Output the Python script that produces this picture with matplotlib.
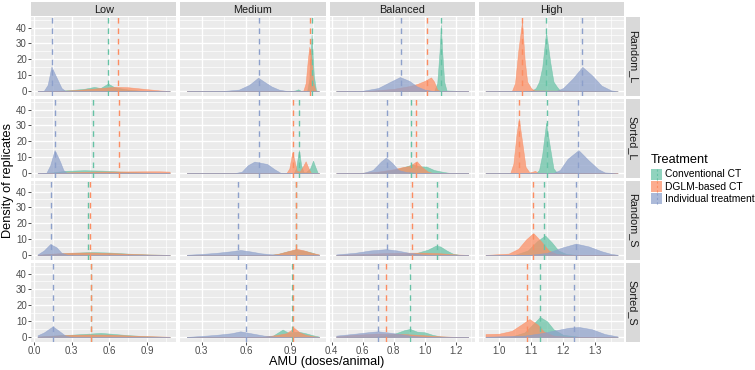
import matplotlib
matplotlib.use("Agg")
import matplotlib.pyplot as plt
from matplotlib.patches import Rectangle
from matplotlib.lines import Line2D
import numpy as np

plt.rcParams['font.family'] = ['Liberation Sans', 'DejaVu Sans']

# ---------------- data ----------------
levels = ["Low", "Medium", "Balanced", "High"]          # columns
scenarios = ["Random_L", "Sorted_L", "Random_S", "Sorted_S"]  # rows
treatments = ["Conventional CT", "DGLM-based CT", "Individual treatment"]
colors = ["#66C2A5", "#FC8D62", "#8DA0CB"]

# x data range per column (free x scales)
x_range = {"Low": (0.03, 1.08), "Medium": (0.20, 1.09),
           "Balanced": (0.43, 1.28), "High": (0.958, 1.37)}
x_ticks = {"Low": [0.0, 0.3, 0.6, 0.9], "Medium": [0.3, 0.6, 0.9],
           "Balanced": [0.4, 0.6, 0.8, 1.0, 1.2], "High": [1.0, 1.1, 1.2, 1.3]}
x_minor = {"Low": [0.15, 0.45, 0.75, 1.05], "Medium": [0.15, 0.45, 0.75, 1.05],
           "Balanced": [0.5, 0.7, 0.9, 1.1, 1.3], "High": [0.95, 1.05, 1.15, 1.25, 1.35]}
x_tick_labels = {"Low": ["0.0", "0.3", "0.6", "0.9"], "Medium": ["0.3", "0.6", "0.9"],
                 "Balanced": ["0.4", "0.6", "0.8", "1.0", "1.2"],
                 "High": ["1.0", "1.1", "1.2", "1.3"]}
y_ticks = [0, 10, 20, 30, 40]

# mean AMU (dashed lines): rows = scenarios, cols = levels
conv_mean = [[0.586, 1.041, 1.103, 1.147],
             [0.469, 0.955, 0.914, 1.150],
             [0.432, 0.935, 1.077, 1.140],
             [0.455, 0.905, 0.905, 1.128]]
dglm_mean = [[0.666, 1.030, 1.013, 1.072],
             [0.674, 0.916, 0.944, 1.063],
             [0.448, 0.932, 0.916, 1.107],
             [0.452, 0.915, 0.750, 1.088]]
indiv_mean = [[0.146, 0.683, 0.849, 1.259],
              [0.165, 0.683, 0.757, 1.246],
              [0.136, 0.542, 0.759, 1.239],
              [0.150, 0.600, 0.700, 1.234]]

# densities: (x list, density list)
conv_density = {
 ("Random_L", "Low"): ([0.03, 0.2, 0.3, 0.4, 0.48, 0.53, 0.59, 0.64, 0.75, 0.85, 1.08],
                       [0, 0.3, 0.8, 1.5, 2.7, 2.0, 4.8, 2.5, 1.0, 0.3, 0]),
 ("Random_L", "Medium"): ([0.2, 0.9, 0.93, 0.95, 0.97, 1.01, 1.025, 1.04, 1.055, 1.07, 1.09],
                          [0, 0, 0.5, 1.2, 0.2, 0, 8, 35.5, 10, 0.5, 0]),
 ("Random_L", "Balanced"): ([0.43, 1.06, 1.08, 1.095, 1.103, 1.112, 1.125, 1.14, 1.28],
                            [0, 0, 5, 25, 41.6, 25, 6, 0.5, 0]),
 ("Random_L", "High"): ([0.958, 1.1, 1.115, 1.125, 1.135, 1.147, 1.16, 1.17, 1.18, 1.19, 1.37],
                        [0, 0, 2, 6, 15, 37.4, 18, 6, 3, 0.5, 0]),
 ("Sorted_L", "Low"): ([0.03, 0.15, 0.25, 0.4, 0.55, 0.7, 0.85, 1.0, 1.08],
                       [0, 0.5, 1.5, 1.9, 1.6, 1.0, 0.5, 0.2, 0]),
 ("Sorted_L", "Medium"): ([0.2, 0.92, 0.935, 0.955, 0.97, 0.985, 1.0, 1.03, 1.05, 1.065, 1.08, 1.09],
                          [0, 0, 3, 14.5, 5, 0.8, 0.5, 3, 7.9, 4, 0.5, 0]),
 ("Sorted_L", "Balanced"): ([0.43, 0.7, 0.8, 0.87, 0.92, 0.97, 1.01, 1.06, 1.12, 1.16, 1.28],
                            [0, 0.5, 2, 4, 5.5, 4.3, 4.2, 2, 0.8, 0.2, 0]),
 ("Sorted_L", "High"): ([0.958, 1.115, 1.125, 1.135, 1.147, 1.16, 1.17, 1.18, 1.37],
                        [0, 0, 2, 12, 31.7, 15, 3, 0.5, 0]),
 ("Random_S", "Low"): ([0.03, 0.15, 0.3, 0.45, 0.6, 0.75, 0.9, 1.08],
                       [0.2, 0.8, 1.5, 2.0, 1.7, 1.0, 0.5, 0.2]),
 ("Random_S", "Medium"): ([0.2, 0.75, 0.82, 0.88, 0.93, 0.98, 1.03, 1.07, 1.09],
                          [0, 0, 1, 2.5, 3.5, 3, 2, 0.8, 0.3]),
 ("Random_S", "Balanced"): ([0.43, 0.85, 0.95, 1.02, 1.07, 1.1, 1.14, 1.18, 1.22, 1.28],
                            [0, 0.2, 1.5, 3.5, 6, 5.5, 3, 1, 0.3, 0]),
 ("Random_S", "High"): ([0.958, 1.05, 1.09, 1.12, 1.144, 1.165, 1.185, 1.21, 1.25, 1.37],
                        [0, 0.3, 3, 9, 12.4, 8, 3, 0.8, 0.1, 0]),
 ("Sorted_S", "Low"): ([0.03, 0.15, 0.3, 0.45, 0.53, 0.6, 0.75, 0.9, 1.08],
                       [0.3, 1.0, 1.6, 2.3, 2.7, 2.3, 1.3, 0.6, 0.2]),
 ("Sorted_S", "Medium"): ([0.2, 0.7, 0.78, 0.845, 0.88, 0.95, 1.0, 1.05, 1.09],
                          [0, 0, 1, 4.8, 3, 3.5, 2.5, 1.2, 0.4]),
 ("Sorted_S", "Balanced"): ([0.43, 0.7, 0.8, 0.87, 0.905, 0.95, 1.0, 1.05, 1.1, 1.2, 1.28],
                            [0, 0.5, 2, 4.5, 5.2, 3.5, 3.1, 1.5, 0.5, 0.1, 0]),
 ("Sorted_S", "High"): ([0.958, 1.04, 1.08, 1.11, 1.128, 1.15, 1.17, 1.2, 1.25, 1.37],
                        [0, 0.5, 3, 9, 12.7, 10, 5, 1.5, 0.3, 0]),
}
dglm_density = {
 ("Random_L", "Low"): ([0.03, 0.2, 0.35, 0.5, 0.65, 0.75, 0.9, 1.0, 1.08],
                       [0, 0.2, 0.8, 1.8, 2.8, 2.5, 1.3, 0.5, 0.1]),
 ("Random_L", "Medium"): ([0.2, 0.95, 0.985, 1.0, 1.015, 1.025, 1.04, 1.05, 1.065, 1.09],
                          [0, 0, 0.5, 5, 20, 28, 20, 6, 0.5, 0]),
 ("Random_L", "Balanced"): ([0.43, 0.65, 0.8, 0.9, 0.95, 1.0, 1.04, 1.06, 1.08, 1.1, 1.28],
                            [0, 0.3, 1.5, 3.2, 4.5, 6.5, 8.7, 6, 1, 0.1, 0]),
 ("Random_L", "High"): ([0.958, 1.04, 1.05, 1.06, 1.072, 1.08, 1.088, 1.1, 1.11, 1.37],
                        [0, 0, 5, 25, 44, 20, 6, 2, 0.5, 0]),
 ("Sorted_L", "Low"): ([0.03, 0.2, 0.35, 0.5, 0.7, 0.9, 1.0, 1.08],
                       [0, 0.3, 0.8, 1.0, 1.1, 1.2, 1.2, 1.0]),
 ("Sorted_L", "Medium"): ([0.2, 0.87, 0.89, 0.91, 0.925, 0.94, 0.96, 0.98, 1.0, 1.02, 1.035, 1.09],
                          [0, 0, 3, 13, 8, 1.5, 1, 4, 7.5, 3, 0.3, 0]),
 ("Sorted_L", "Balanced"): ([0.43, 0.6, 0.7, 0.8, 0.85, 0.9, 0.948, 0.98, 1.02, 1.05, 1.28],
                            [0, 0.3, 1, 2.5, 3.7, 4.5, 7.5, 4, 1, 0.2, 0]),
 ("Sorted_L", "High"): ([0.958, 1.035, 1.045, 1.055, 1.062, 1.072, 1.083, 1.095, 1.105, 1.113, 1.12, 1.37],
                        [0, 0, 6, 25, 34.2, 20, 4, 0.5, 1, 1.5, 0.3, 0]),
 ("Random_S", "Low"): ([0.03, 0.15, 0.3, 0.45, 0.6, 0.75, 0.9, 1.08],
                       [0.3, 1.0, 1.6, 1.7, 1.4, 0.9, 0.5, 0.2]),
 ("Random_S", "Medium"): ([0.2, 0.75, 0.82, 0.88, 0.94, 0.99, 1.04, 1.09],
                          [0, 0, 1, 2.5, 4, 3, 1.5, 0.5]),
 ("Random_S", "Balanced"): ([0.43, 0.6, 0.75, 0.9, 1.0, 1.1, 1.2, 1.28],
                            [0.2, 0.8, 1.3, 1.6, 1.6, 1.2, 0.5, 0.2]),
 ("Random_S", "High"): ([0.958, 1.03, 1.06, 1.085, 1.107, 1.13, 1.155, 1.18, 1.22, 1.37],
                        [0.2, 1, 4, 10, 13.9, 9, 3, 0.8, 0.2, 0]),
 ("Sorted_S", "Low"): ([0.03, 0.15, 0.3, 0.45, 0.6, 0.75, 0.9, 1.08],
                       [0.4, 1.0, 1.5, 1.7, 1.6, 1.1, 0.7, 0.3]),
 ("Sorted_S", "Medium"): ([0.2, 0.7, 0.8, 0.87, 0.923, 0.96, 1.0, 1.05, 1.09],
                          [0, 0.2, 1.3, 2.5, 5.8, 3, 1.5, 0.6, 0.2]),
 ("Sorted_S", "Balanced"): ([0.43, 0.55, 0.7, 0.8, 0.9, 1.0, 1.1, 1.2, 1.28],
                            [0.5, 1.5, 2.3, 2.2, 1.8, 1.2, 0.6, 0.2, 0.1]),
 ("Sorted_S", "High"): ([0.958, 1.0, 1.04, 1.07, 1.095, 1.12, 1.14, 1.17, 1.22, 1.37],
                        [2, 2.2, 4, 8, 11.4, 8, 3.5, 1, 0.2, 0]),
}
indiv_density = {
 ("Random_L", "Low"): ([0.03, 0.08, 0.11, 0.14, 0.16, 0.19, 0.22, 0.25, 0.3, 1.08],
                       [0, 0.3, 4, 15.5, 12, 7, 2, 0.2, 0, 0]),
 ("Random_L", "Medium"): ([0.2, 0.45, 0.55, 0.62, 0.68, 0.72, 0.77, 0.82, 0.87, 1.09],
                          [0, 0.2, 1, 4, 8.5, 6, 3, 1, 0.2, 0]),
 ("Random_L", "Balanced"): ([0.43, 0.6, 0.7, 0.78, 0.84, 0.9, 0.95, 1.0, 1.05, 1.28],
                            [0, 0.3, 2, 6, 8.9, 6.5, 3, 1, 0.2, 0]),
 ("Random_L", "High"): ([0.958, 1.18, 1.2, 1.23, 1.26, 1.29, 1.32, 1.35, 1.37],
                        [0, 0.3, 2, 8, 15.3, 10, 3.5, 0.5, 0]),
 ("Sorted_L", "Low"): ([0.03, 0.1, 0.13, 0.165, 0.19, 0.21, 0.235, 0.26, 0.3, 1.08],
                       [0, 0.3, 5, 14.5, 10.5, 7, 2, 0.2, 0, 0]),
 ("Sorted_L", "Medium"): ([0.2, 0.52, 0.57, 0.61, 0.655, 0.7, 0.74, 0.79, 0.83, 1.09],
                          [0, 0, 1, 5, 7.3, 6.5, 5.8, 2.5, 0.3, 0]),
 ("Sorted_L", "Balanced"): ([0.43, 0.6, 0.665, 0.72, 0.75, 0.79, 0.83, 0.88, 0.95, 1.28],
                            [0, 0.1, 2, 7.5, 9.8, 6.5, 2, 0.8, 0.2, 0]),
 ("Sorted_L", "High"): ([0.958, 1.17, 1.19, 1.214, 1.248, 1.28, 1.31, 1.33, 1.37],
                        [0, 0.2, 2, 9, 14.5, 8, 2.5, 0.5, 0]),
 ("Random_S", "Low"): ([0.03, 0.08, 0.13, 0.18, 0.22, 0.27, 0.3, 1.08],
                       [0.5, 3, 7, 5, 1.5, 0.2, 0, 0]),
 ("Random_S", "Medium"): ([0.2, 0.3, 0.4, 0.5, 0.56, 0.62, 0.7, 0.8, 0.9, 1.09],
                          [0.3, 0.8, 1.5, 2.5, 3.3, 2.5, 1.2, 0.3, 0, 0]),
 ("Random_S", "Balanced"): ([0.43, 0.55, 0.65, 0.75, 0.82, 0.9, 0.98, 1.05, 1.28],
                            [0.5, 1.5, 3, 3.8, 3, 1.5, 0.5, 0.1, 0]),
 ("Random_S", "High"): ([0.958, 1.1, 1.15, 1.2, 1.24, 1.28, 1.32, 1.35, 1.37],
                        [0, 0.3, 1.5, 5, 7.3, 5.5, 2.5, 0.8, 0.3]),
 ("Sorted_S", "Low"): ([0.03, 0.08, 0.15, 0.2, 0.25, 0.3, 0.35, 1.08],
                       [1.2, 3, 6.8, 4, 1, 0.1, 0, 0]),
 ("Sorted_S", "Medium"): ([0.2, 0.3, 0.4, 0.5, 0.56, 0.63, 0.72, 0.8, 0.88, 1.09],
                          [0.2, 0.8, 1.5, 2.5, 3.7, 2.5, 1, 0.3, 0, 0]),
 ("Sorted_S", "Balanced"): ([0.43, 0.55, 0.65, 0.7, 0.78, 0.85, 0.92, 1.0, 1.1, 1.28],
                            [1, 2.2, 3.3, 3.7, 2.8, 1.8, 0.8, 0.2, 0, 0]),
 ("Sorted_S", "High"): ([0.958, 1.08, 1.13, 1.18, 1.22, 1.25, 1.29, 1.33, 1.37],
                        [0.3, 1, 2.5, 4.5, 6, 6.4, 5, 2, 0.5]),
}

densities = [conv_density, dglm_density, indiv_density]
means = [conv_mean, dglm_mean, indiv_mean]

# ---------------- figure ----------------
W, H = 755, 370
fig = plt.figure(figsize=(W / 100, H / 100), dpi=100)

def rect(x0, y0, x1, y1):
    return [x0 / W, 1 - y1 / H, (x1 - x0) / W, (y1 - y0) / H]

col_left = [31, 180.3, 329.6, 478.9]
col_w = 145.3
row_top = [17, 99, 181, 263]
row_h = 79
ylim = (-3.0, 46.6)

panel_bg = "#EBEBEB"
strip_bg = "#D9D9D9"
tick_col = "#4D4D4D"

for r, scen in enumerate(scenarios):
    for c, lev in enumerate(levels):
        x0, y0 = col_left[c], row_top[r]
        ax = fig.add_axes(rect(x0, y0, x0 + col_w, y0 + row_h))
        ax.set_facecolor(panel_bg)
        lo, hi = x_range[lev]
        pad = (hi - lo) * 0.05
        ax.set_xlim(lo - pad, hi + pad)
        ax.set_ylim(*ylim)
        for s in ax.spines.values():
            s.set_visible(False)
        # grid
        for xm in x_minor[lev]:
            ax.axvline(xm, color="white", lw=0.5, zorder=0)
        for yv in [5, 15, 25, 35, 45]:
            ax.axhline(yv, color="white", lw=0.5, zorder=0)
        for xv in x_ticks[lev]:
            ax.axvline(xv, color="white", lw=1.0, zorder=0)
        for yv in y_ticks:
            ax.axhline(yv, color="white", lw=1.0, zorder=0)
        # densities
        for t in range(3):
            xs, ys = densities[t][(scen, lev)]
            ax.fill_between(xs, 0, ys, facecolor=colors[t], alpha=0.72,
                            edgecolor=colors[t], lw=0.4, zorder=2 + t)
        for t in range(3):
            ax.axvline(means[t][r][c], color=colors[t], lw=1.0,
                       linestyle=(0, (4, 3.5)), zorder=6)
        ax.set_xticks(x_ticks[lev])
        ax.set_yticks(y_ticks)
        ax.tick_params(length=2.2, width=0.6, color="#333333", labelcolor=tick_col,
                       labelsize=7.0, pad=0.8)
        if r == 3:
            ax.set_xticklabels(x_tick_labels[lev])
        else:
            ax.set_xticklabels([])
            ax.tick_params(axis="x", length=0)
        if c == 0:
            ax.set_yticklabels([str(v) for v in y_ticks])
        else:
            ax.set_yticklabels([])
            ax.tick_params(axis="y", length=0)

# strips on top
for c, lev in enumerate(levels):
    x0 = col_left[c]
    sax = fig.add_axes(rect(x0, 1.7, x0 + col_w, 16.2))
    sax.set_facecolor(strip_bg)
    sax.set_xticks([]); sax.set_yticks([])
    for s in sax.spines.values():
        s.set_visible(False)
    sax.text(0.5, 0.45, lev, ha="center", va="center", fontsize=7.8,
             color="#1A1A1A", transform=sax.transAxes)

# strips on right
for r, scen in enumerate(scenarios):
    y0 = row_top[r]
    sax = fig.add_axes(rect(625.5, y0, 640, y0 + row_h))
    sax.set_facecolor(strip_bg)
    sax.set_xticks([]); sax.set_yticks([])
    for s in sax.spines.values():
        s.set_visible(False)
    sax.text(0.5, 0.5, scen, ha="center", va="center", fontsize=7.8,
             color="#1A1A1A", rotation=-90, transform=sax.transAxes)

# axis titles
fig.text(327 / W, 1 - 362.5 / H, "AMU (doses/animal)", ha="center", va="center",
         fontsize=9.2, color="black")
fig.text(8 / W, 1 - 180 / H, "Density of replicates", ha="center", va="center",
         fontsize=9.2, color="black", rotation=90)

# legend
fig.text(651 / W, 1 - 160 / H, "Treatment", ha="left", va="center", fontsize=9.2,
         color="black")
key_y = [174.5, 186.7, 198.8]
for t, lab in enumerate(treatments):
    ky = key_y[t]
    fig.patches.append(Rectangle((651 / W, 1 - (ky + 5.5) / H), 11 / W, 11 / H,
                                 transform=fig.transFigure, facecolor=colors[t],
                                 alpha=0.72, edgecolor="none"))
    fig.lines.append(Line2D([656.5 / W, 656.5 / W], [1 - (ky + 5.5) / H, 1 - (ky - 5.5) / H],
                            transform=fig.transFigure, color=colors[t], lw=0.8,
                            linestyle=(0, (2, 2))))
    fig.text(665 / W, 1 - ky / H, lab, ha="left", va="center", fontsize=7.4,
             color="black")

fig.savefig("out.png", dpi=100, facecolor="white")
